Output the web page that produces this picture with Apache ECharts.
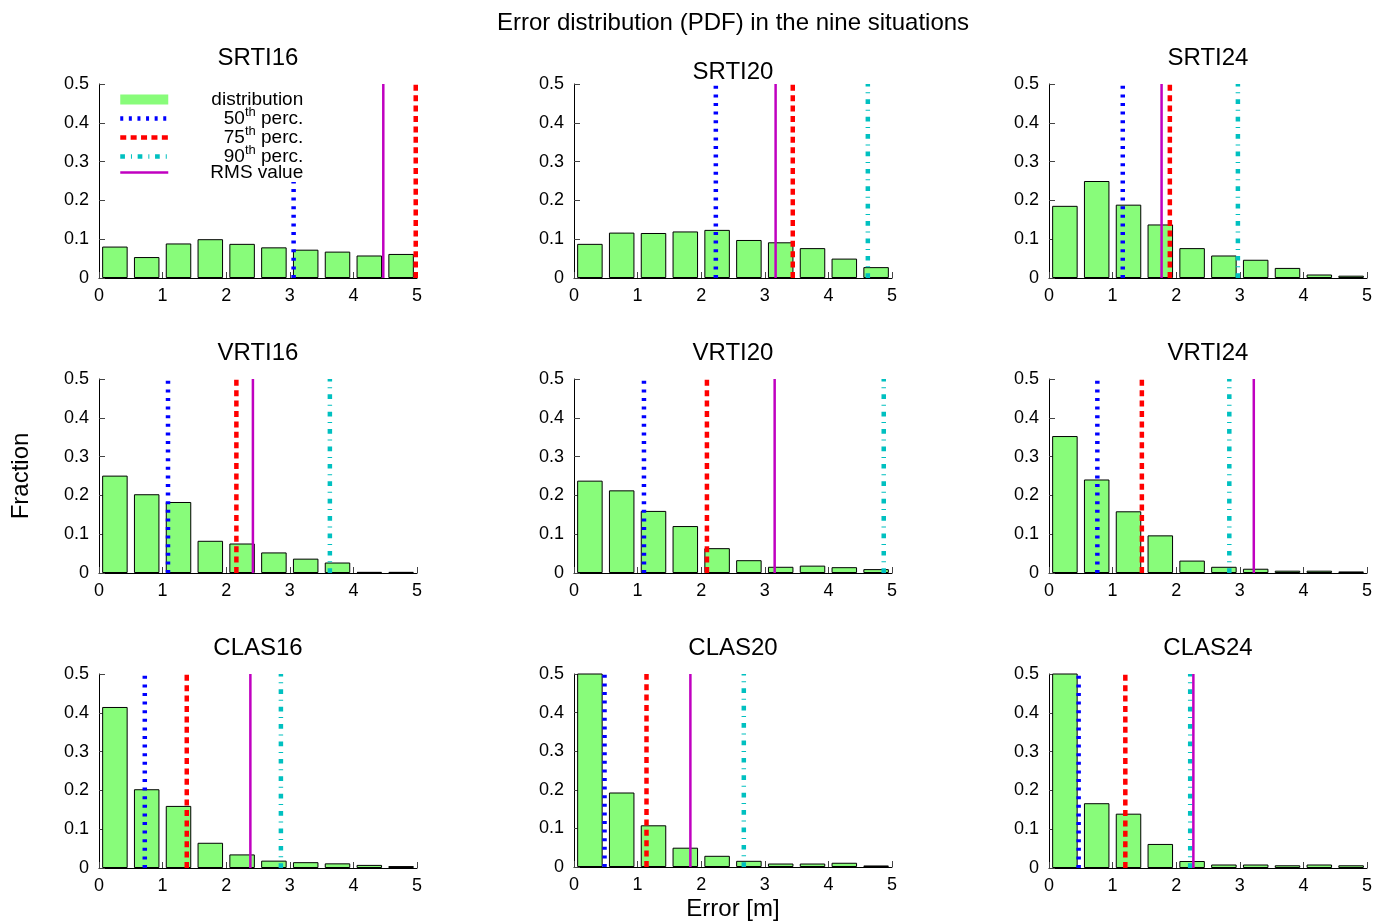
<!DOCTYPE html>
<html>
<head>
<meta charset="utf-8">
<script src="https://cdn.jsdelivr.net/npm/echarts@6/dist/echarts.min.js"></script>
<style>
  html, body { margin: 0; padding: 0; background: #fff; }
  #chart { width: 1386px; height: 922px; }
</style>
</head>
<body>
<div id="chart"></div>
<script>
// situations, in panel order (row by row)
const situations = ['SRTI16', 'SRTI20', 'SRTI24', 'VRTI16', 'VRTI20', 'VRTI24', 'CLAS16', 'CLAS20', 'CLAS24']
// bin centres of the histogram [m]
const binCenters = [0.25, 0.75, 1.25, 1.75, 2.25, 2.75, 3.25, 3.75, 4.25, 4.75]

// fraction per bin
const srti16 = [0.081, 0.054, 0.089, 0.100, 0.088, 0.079, 0.073, 0.068, 0.058, 0.062]
const srti20 = [0.088, 0.117, 0.116, 0.120, 0.124, 0.098, 0.092, 0.077, 0.050, 0.028]
const srti24 = [0.186, 0.250, 0.189, 0.138, 0.077, 0.058, 0.047, 0.026, 0.009, 0.006]
const vrti16 = [0.251, 0.203, 0.183, 0.083, 0.076, 0.053, 0.037, 0.027, 0.003, 0.003]
const vrti20 = [0.238, 0.213, 0.160, 0.121, 0.064, 0.033, 0.016, 0.019, 0.015, 0.010]
const vrti24 = [0.353, 0.241, 0.159, 0.097, 0.032, 0.016, 0.011, 0.006, 0.006, 0.004]
const clas16 = [0.415, 0.203, 0.160, 0.065, 0.035, 0.019, 0.015, 0.012, 0.008, 0.005]
const clas20 = [0.560, 0.193, 0.108, 0.050, 0.029, 0.016, 0.009, 0.009, 0.011, 0.004]
const clas24 = [0.560, 0.167, 0.140, 0.062, 0.018, 0.009, 0.009, 0.007, 0.009, 0.007]
const fractions = [srti16, srti20, srti24, vrti16, vrti20, vrti24, clas16, clas20, clas24]

// percentiles and rms [m] (null = outside 0..5)
const p50 = [3.06, 2.23, 1.16, 1.085, 1.10, 0.76, 0.72, 0.48, 0.466]
const p75 = [4.98, 3.44, 1.90, 2.16, 2.09, 1.46, 1.38, 1.14, 1.20]
const p90 = [null, 4.62, 2.97, 3.63, 4.87, 2.835, 2.86, 2.67, 2.22]
const rms = [4.47, 3.17, 1.77, 2.42, 3.155, 3.22, 2.38, 1.83, 2.27]

const yTop = 0.5
const FONT = 'Liberation Sans, Arial, Helvetica, sans-serif'
const GREEN = '#88fc7a'

const colLeft = [99, 574, 1049]
const rowTop = [84, 379, 674]
const W = 318
const H = 194

const marks = [
  { name: '50th perc.', vals: p50, color: '#0000ff', width: 4.5, type: [3, 5.6] },
  { name: '75th perc.', vals: p75, color: '#ff0000', width: 4.5, type: [6, 4.4] },
  { name: '90th perc.', vals: p90, color: '#00c0c0', width: 4.5, type: [4.7, 6, 1, 5.7] },
  { name: 'RMS value', vals: rms, color: '#c000c0', width: 2.5, type: 'solid' }
]

const grids = [], xAxes = [], yAxes = [], series = []
const titles = [{
  text: 'Error distribution (PDF) in the nine situations',
  left: 733, top: 11, textAlign: 'center', padding: 0,
  textStyle: { fontFamily: FONT, fontSize: 24, fontWeight: 'normal', color: '#000' }
}]

situations.forEach((name, i) => {
  const r = Math.floor(i / 3), c = i % 3
  grids.push({ left: colLeft[c], top: rowTop[r], width: W, height: H })
  titles.push({
    text: name, left: colLeft[c] + W / 2, top: rowTop[r] - (i === 1 ? 24 : 38),
    textAlign: 'center', padding: 0,
    textStyle: { fontFamily: FONT, fontSize: 24, fontWeight: 'normal', color: '#000' }
  })
  xAxes.push({
    gridIndex: i, type: 'value', min: 0, max: 5, interval: 1,
    name: i === 7 ? 'Error [m]' : '', nameLocation: 'middle', nameGap: 30,
    nameTextStyle: { fontFamily: FONT, fontSize: 24, color: '#000' },
    axisLine: { lineStyle: { color: '#000', width: 1 } },
    axisTick: { inside: true, length: 6, lineStyle: { color: '#444' } },
    axisLabel: { fontFamily: FONT, fontSize: 18, color: '#000', margin: 9 },
    splitLine: { show: false }
  })
  yAxes.push({
    gridIndex: i, type: 'value', min: 0, max: yTop, interval: 0.1,
    name: i === 3 ? 'Fraction' : '', nameLocation: 'middle', nameGap: 66,
    nameTextStyle: { fontFamily: FONT, fontSize: 24, color: '#000' },
    axisLine: { show: true, lineStyle: { color: '#000', width: 1 } },
    axisTick: { show: true, inside: true, length: 6, lineStyle: { color: '#444' } },
    axisLabel: { fontFamily: FONT, fontSize: 18, color: '#000', margin: 10 },
    splitLine: { show: false }
  })
  series.push({
    name: 'distribution', type: 'bar', xAxisIndex: i, yAxisIndex: i,
    barWidth: 25.5, clip: true,
    data: binCenters.map((x, k) => [x, fractions[i][k]]),
    itemStyle: { color: GREEN, borderColor: '#000', borderWidth: 1 },
    z: 2
  })
  marks.forEach(m => {
    if (m.vals[i] == null) return
    series.push({
      name: m.name, type: 'line', xAxisIndex: i, yAxisIndex: i,
      symbol: 'none', clip: true,
      data: [[m.vals[i], 0], [m.vals[i], yTop]],
      lineStyle: { color: m.color, width: m.width, type: m.type, cap: 'butt' },
      itemStyle: { color: m.color },
      z: 3
    })
  })
})

const legendData = [{ name: 'distribution', icon: 'rect', itemStyle: { color: GREEN, borderWidth: 0 } }]
  .concat(marks.map(m => ({
    name: m.name,
    itemStyle: { opacity: 0 },
    lineStyle: { color: m.color, width: m.width, type: m.type, cap: 'butt', opacity: 1 }
  })))

const chart = echarts.init(document.getElementById('chart'), null, { renderer: 'canvas' })
chart.setOption({
  animation: false,
  backgroundColor: '#fff',
  title: titles,
  legend: {
    orient: 'vertical', left: 118, top: 84, padding: [6, 0, 0, 0], itemGap: -3,
    itemWidth: 48, itemHeight: 10,
    backgroundColor: '#fff',
    selectedMode: false,
    data: legendData,
    formatter: n => {
      const m = n.match(/^(\d+)th (.*)$/)
      if (m) return '{n|' + m[1] + '}{s|th}{n| ' + m[2] + '}'
      return '{n|' + n + '}'
    },
    textStyle: {
      fontFamily: FONT, fontSize: 19, color: '#000', width: 130, padding: 0,
      rich: {
        n: { fontFamily: FONT, fontSize: 19, lineHeight: 25, color: '#000', align: 'right', verticalAlign: 'middle' },
        s: { fontFamily: FONT, fontSize: 13, lineHeight: 13, color: '#000', align: 'right', verticalAlign: 'top' }
      }
    }
  },
  grid: grids,
  xAxis: xAxes,
  yAxis: yAxes,
  series: series
})
</script>
</body>
</html>
